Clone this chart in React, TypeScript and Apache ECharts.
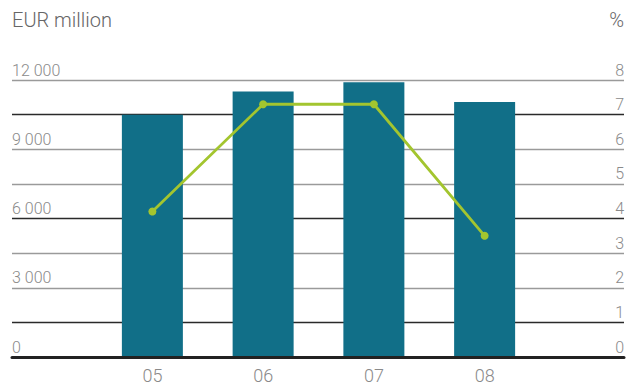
import React, { useEffect, useRef } from "react";
import * as echarts from "echarts";

const categories = ["05", "06", "07", "08"];
const revenue = [10500, 11500, 11900, 11050]; // EUR million
const margin = [4.2, 7.3, 7.3, 3.5]; // %
const leftMax = 12000;
const leftStep = 1500;
const leftLabelStep = 3000;
const rightMax = 8;
const rightStep = 1;

const FONT = "Roboto, 'Liberation Sans', sans-serif";
const LABEL = "#8a8a8a";

function fmtThousands(v: number): string {
  return String(v).replace(/\B(?=(\d{3})+(?!\d))/g, " ");
}

export default function App() {
  const ref = useRef<HTMLDivElement>(null);
  useEffect(() => {
    if (!ref.current) return;
    const chart = echarts.init(ref.current, undefined, { renderer: "svg" });
    chart.setOption({
      animation: false,
      backgroundColor: "#ffffff",
      textStyle: { fontFamily: FONT },
      title: [
        {
          text: "EUR million",
          left: 12,
          top: 10,
          padding: 0,
          textStyle: { fontSize: 20, fontWeight: 300, color: "#666", fontFamily: FONT },
        },
        {
          text: "%",
          right: 14,
          top: 10,
          padding: 0,
          textStyle: { fontSize: 20, fontWeight: 300, color: "#666", fontFamily: FONT },
        },
      ],
      grid: [
        { left: 12, right: 14, top: 80, height: 277, containLabel: false },
        { left: 97, right: 98, top: 80, height: 277, containLabel: false },
      ],
      xAxis: [
        {
          gridIndex: 0,
          type: "value",
          min: 0,
          max: 1,
          axisLine: { show: true, lineStyle: { color: "#222", width: 3 } },
          axisTick: { show: false },
          axisLabel: { show: false },
          splitLine: { show: false },
          z: 5,
        },
        {
          gridIndex: 1,
          type: "category",
          data: categories,
          axisLine: { show: false },
          axisTick: { show: false },
          axisLabel: {
            margin: 9,
            fontSize: 18,
            fontWeight: 300,
            color: LABEL,
            fontFamily: FONT,
          },
        },
      ],
      yAxis: [
        {
          gridIndex: 0,
          type: "value",
          position: "left",
          min: 0,
          max: leftMax,
          interval: leftStep,
          axisLine: { show: false },
          axisTick: { show: false },
          axisLabel: {
            inside: true,
            margin: 0,
            align: "left",
            verticalAlign: "bottom",
            padding: [0, 0, 2, 0],
            fontSize: 16,
            fontWeight: 300,
            color: LABEL,
            fontFamily: FONT,
            formatter: (v: number) => (v % leftLabelStep === 0 ? fmtThousands(v) : ""),
          },
          splitLine: {
            show: true,
            lineStyle: { color: ["#9a9a9a", "#2a2a2a", "#9a9a9a"], width: 1.4 },
          },
        },
        {
          gridIndex: 0,
          type: "value",
          position: "right",
          min: 0,
          max: rightMax,
          interval: rightStep,
          axisLine: { show: false },
          axisTick: { show: false },
          splitLine: { show: false },
          axisLabel: {
            inside: true,
            margin: 0,
            align: "right",
            verticalAlign: "bottom",
            padding: [0, 0, 2, 0],
            fontSize: 16,
            fontWeight: 300,
            color: LABEL,
            fontFamily: FONT,
          },
        },
        {
          gridIndex: 1,
          type: "value",
          min: 0,
          max: leftMax,
          show: false,
        },
        {
          gridIndex: 1,
          type: "value",
          min: 0,
          max: rightMax,
          show: false,
        },
      ],
      series: [
        {
          type: "bar",
          name: "EUR million",
          xAxisIndex: 1,
          yAxisIndex: 2,
          data: revenue,
          barWidth: 61,
          itemStyle: { color: "#116f88" },
          z: 2,
        },
        {
          type: "line",
          name: "%",
          xAxisIndex: 1,
          yAxisIndex: 3,
          data: margin,
          symbol: "circle",
          symbolSize: 8,
          lineStyle: { color: "#a3c52f", width: 2.8 },
          itemStyle: { color: "#a3c52f" },
          z: 3,
        },
      ],
    });
    return () => chart.dispose();
  }, []);
  return <div ref={ref} style={{ width: 638, height: 387, position: "absolute", left: 0, top: 0 }} />;
}
